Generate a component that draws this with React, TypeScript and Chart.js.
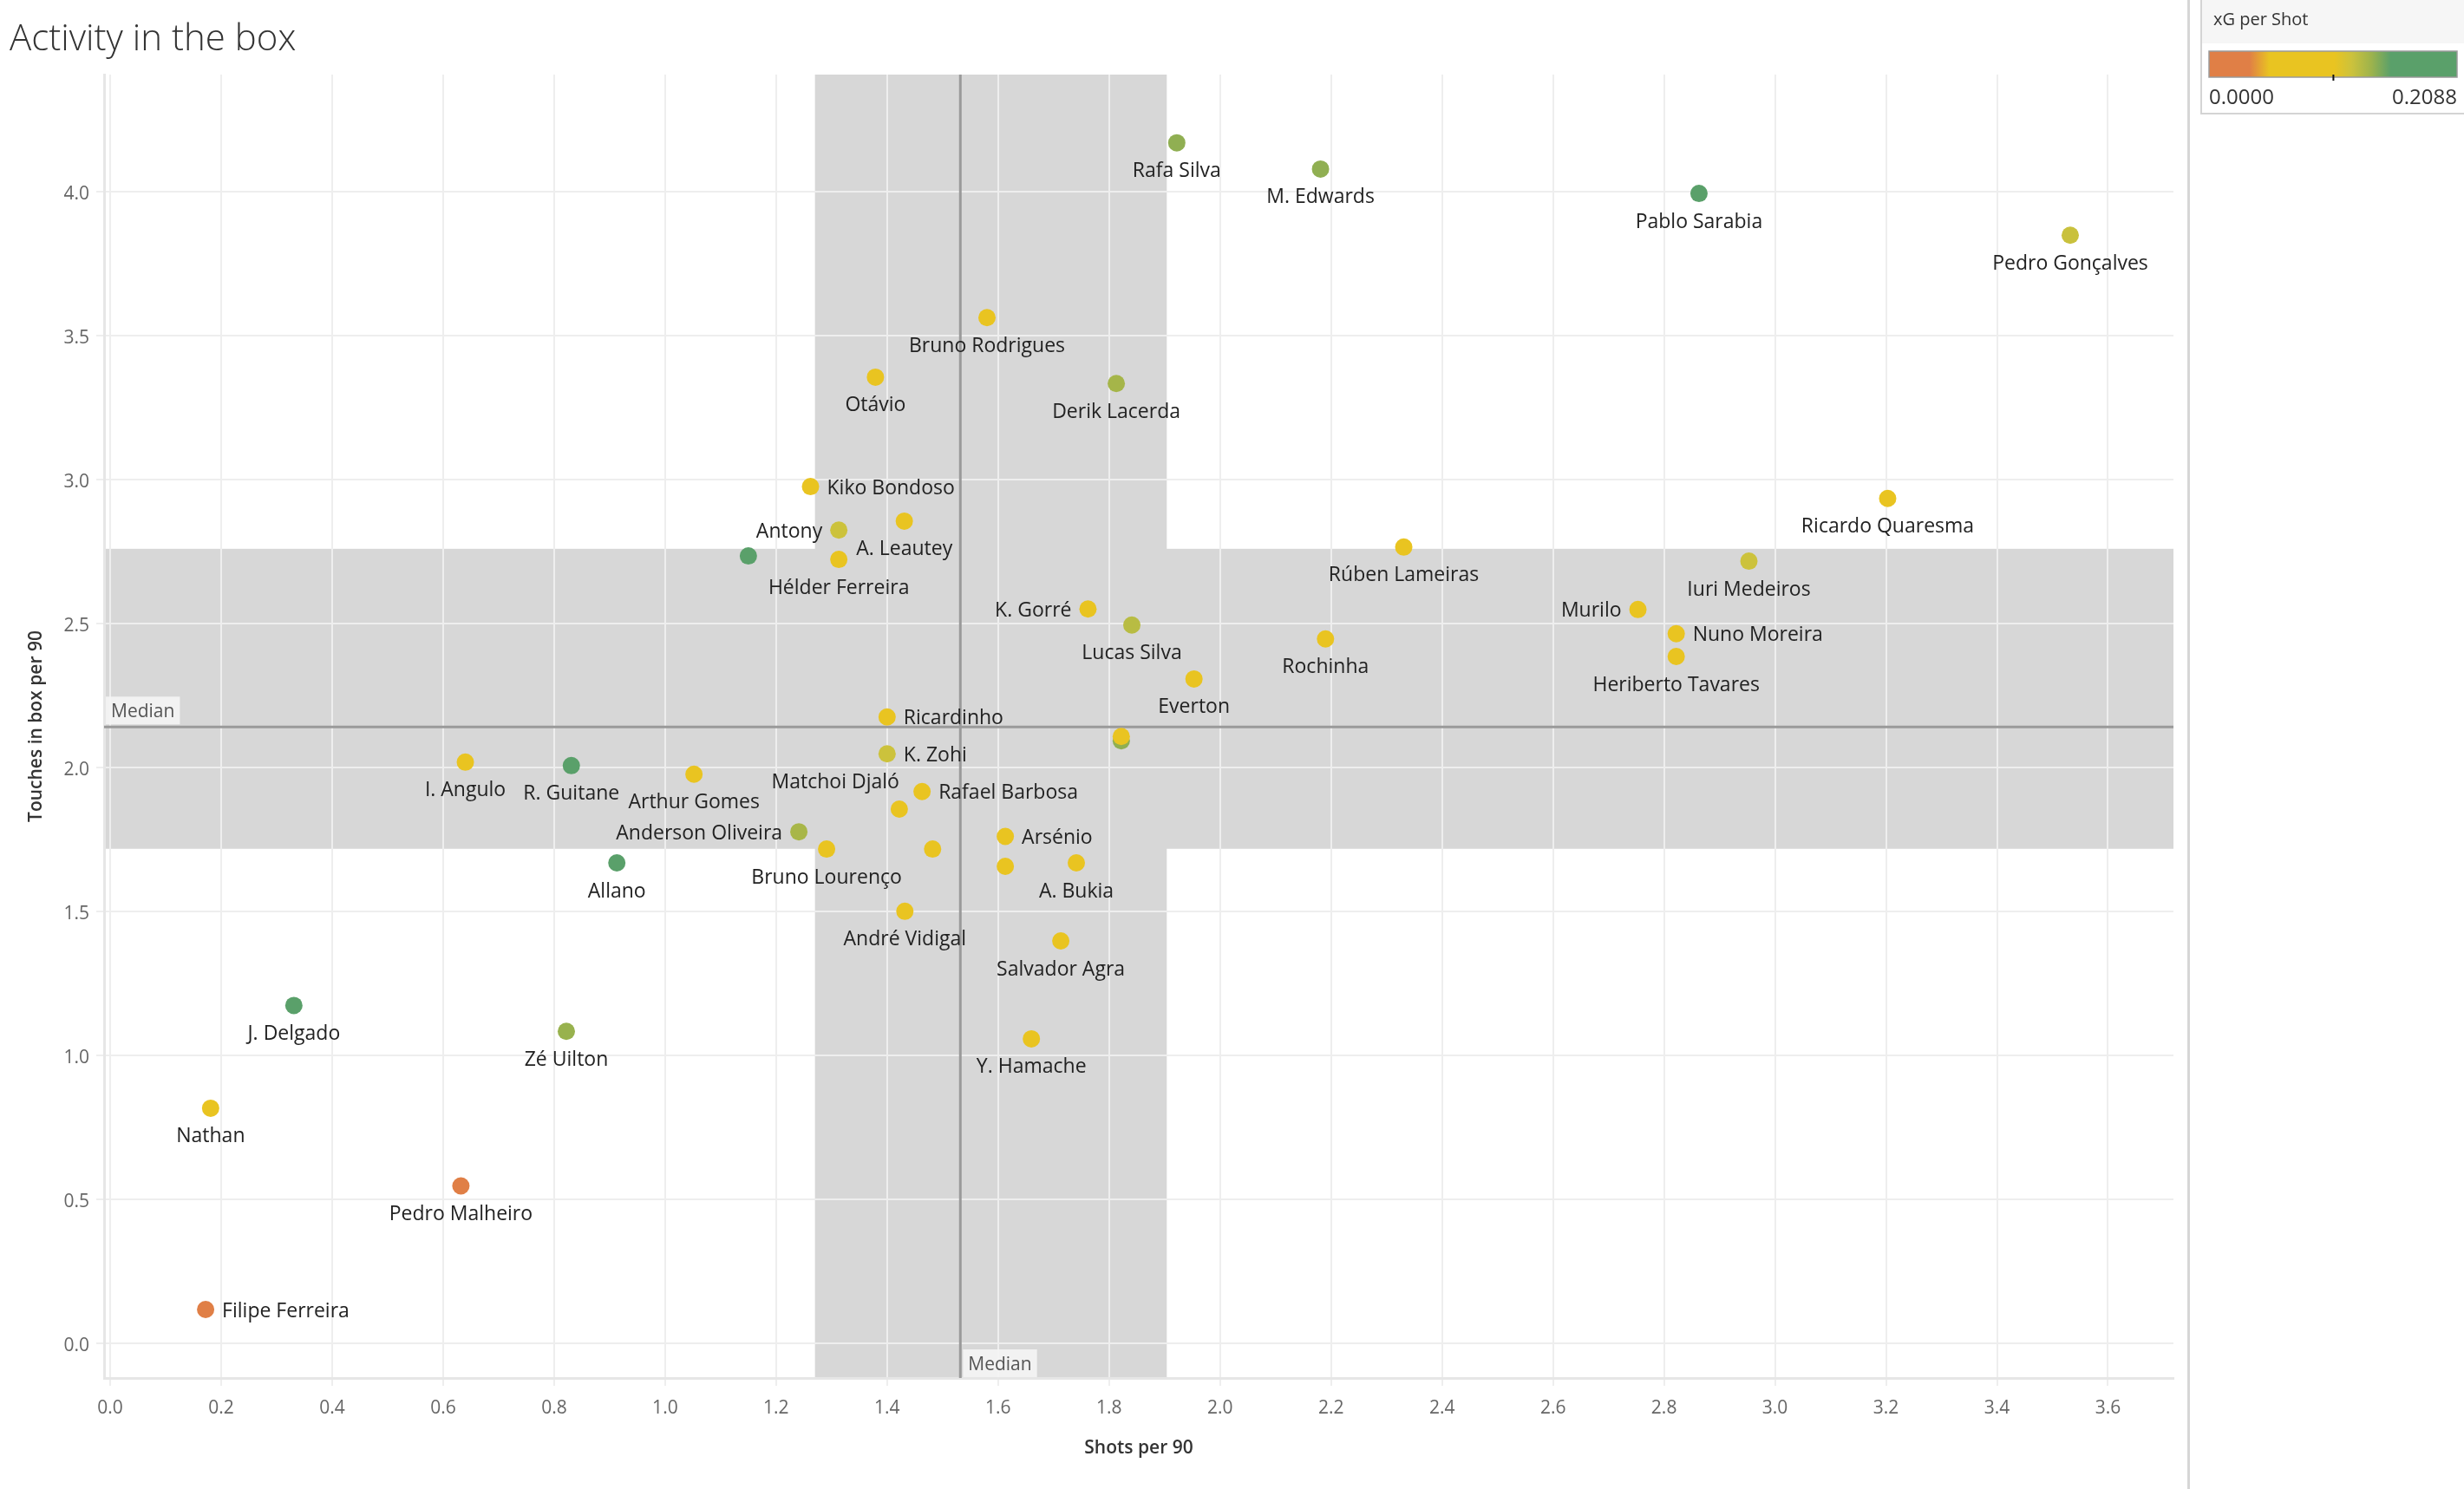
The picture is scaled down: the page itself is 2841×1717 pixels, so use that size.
import { useEffect, useRef } from "react";
import { Chart, registerables } from "chart.js";

Chart.register(...registerables);

// ---------------- data ----------------
const playerNames: string[] = [
  "Rafa Silva", "M. Edwards", "Pablo Sarabia", "Pedro Gonçalves", "Bruno Rodrigues",
  "Otávio", "Derik Lacerda", "Kiko Bondoso", "Ricardo Quaresma", "Antony",
  "A. Leautey", "", "Hélder Ferreira", "Rúben Lameiras", "Iuri Medeiros",
  "Murilo", "K. Gorré", "Lucas Silva", "Nuno Moreira", "Rochinha",
  "Heriberto Tavares", "Everton", "Ricardinho", "", "",
  "K. Zohi", "I. Angulo", "R. Guitane", "Arthur Gomes", "Rafael Barbosa",
  "Matchoi Djaló", "Anderson Oliveira", "Bruno Lourenço", "", "Arsénio",
  "", "A. Bukia", "Allano", "André Vidigal", "Salvador Agra",
  "J. Delgado", "Zé Uilton", "Y. Hamache", "Nathan", "Pedro Malheiro",
  "Filipe Ferreira",
];

const shotsPer90: number[] = [
  1.922, 2.181, 2.863, 3.532, 1.580,
  1.379, 1.813, 1.262, 3.203, 1.313,
  1.431, 1.150, 1.313, 2.331, 2.953,
  2.753, 1.762, 1.841, 2.822, 2.190,
  2.822, 1.953, 1.400, 1.822, 1.822,
  1.400, 0.640, 0.831, 1.052, 1.463,
  1.422, 1.241, 1.291, 1.482, 1.613,
  1.613, 1.741, 0.913, 1.432, 1.713,
  0.331, 0.822, 1.660, 0.181, 0.632,
  0.172,
];

const touchesInBoxPer90: number[] = [
  4.170, 4.079, 3.994, 3.849, 3.563,
  3.356, 3.334, 2.976, 2.935, 2.825,
  2.856, 2.735, 2.723, 2.766, 2.717,
  2.549, 2.551, 2.495, 2.465, 2.447,
  2.386, 2.308, 2.176, 2.093, 2.108,
  2.048, 2.019, 2.007, 1.977, 1.917,
  1.856, 1.777, 1.717, 1.717, 1.761,
  1.657, 1.669, 1.669, 1.501, 1.398,
  1.174, 1.084, 1.058, 0.817, 0.547,
  0.118,
];

const xgPerShot: number[] = [
  0.140, 0.140, 0.180, 0.121, 0.085,
  0.085, 0.134, 0.085, 0.085, 0.120,
  0.085, 0.172, 0.105, 0.085, 0.120,
  0.085, 0.085, 0.127, 0.085, 0.085,
  0.085, 0.085, 0.085, 0.140, 0.085,
  0.120, 0.085, 0.180, 0.085, 0.085,
  0.085, 0.133, 0.085, 0.085, 0.085,
  0.085, 0.085, 0.180, 0.085, 0.085,
  0.180, 0.138, 0.085, 0.080, 0.022,
  0.015,
];

const xTickStep = 0.2;
const yTickStep = 0.5;
const shotsRange = [-0.011, 3.718];
const touchesRange = [-0.12, 4.407];
const medianShots = 1.532;
const medianTouches = 2.141;
const bandShots = [1.27, 1.904];
const bandTouches = [1.718, 2.76];
const xgLegendRange = [0.0, 0.2088];
const xgLegendTick = 0.1047;

// ---------------- styles ----------------
const FONT = '"Open Sans", "Noto Sans", sans-serif';
const colorStops: [number, number[]][] = [
  [0, [224, 127, 70]],
  [0.163, [224, 127, 70]],
  [0.244, [233, 196, 33]],
  [0.506, [233, 196, 33]],
  [0.575, [204, 194, 60]],
  [0.655, [157, 179, 76]],
  [0.733, [90, 160, 106]],
  [1, [90, 160, 106]],
];

const labelPlacement: Record<string, string> = {
  "Kiko Bondoso": "right",
  "Ricardinho": "right",
  "K. Zohi": "right",
  "Rafael Barbosa": "right",
  "Arsénio": "right",
  "Nuno Moreira": "right",
  "Filipe Ferreira": "right",
  "Antony": "left",
  "K. Gorré": "left",
  "Murilo": "left",
  "Anderson Oliveira": "left",
  "Matchoi Djaló": "aboveLeft",
};

function colorAt(t: number): string {
  const tt = Math.max(0, Math.min(1, t));
  for (let i = 0; i < colorStops.length - 1; i++) {
    const [t0, c0] = colorStops[i];
    const [t1, c1] = colorStops[i + 1];
    if (tt >= t0 && tt <= t1) {
      const f = t1 === t0 ? 0 : (tt - t0) / (t1 - t0);
      const c = c0.map((v, k) => Math.round(v + (c1[k] - v) * f));
      return `rgb(${c[0]},${c[1]},${c[2]})`;
    }
  }
  const c = colorStops[colorStops.length - 1][1];
  return `rgb(${c[0]},${c[1]},${c[2]})`;
}

function xgColor(v: number): string {
  return colorAt((v - xgLegendRange[0]) / (xgLegendRange[1] - xgLegendRange[0]));
}

const bandPlugin = {
  id: "bands",
  beforeDraw(chart: any) {
    const { ctx, chartArea, scales } = chart;
    ctx.save();
    ctx.fillStyle = "#ffffff";
    ctx.fillRect(0, 0, chart.width, chart.height);
    ctx.fillStyle = "#D7D7D7";
    const x0 = scales.x.getPixelForValue(bandShots[0]);
    const x1 = scales.x.getPixelForValue(bandShots[1]);
    ctx.fillRect(x0, chartArea.top, x1 - x0, chartArea.bottom - chartArea.top);
    const y0 = scales.y.getPixelForValue(bandTouches[1]);
    const y1 = scales.y.getPixelForValue(bandTouches[0]);
    ctx.fillRect(chartArea.left, y0, chartArea.right - chartArea.left, y1 - y0);
    ctx.restore();
  },
  beforeDatasetsDraw(chart: any) {
    const { ctx, chartArea, scales } = chart;
    ctx.save();
    ctx.strokeStyle = "#9A9A9A";
    ctx.lineWidth = 3;
    const mx = scales.x.getPixelForValue(medianShots);
    const my = scales.y.getPixelForValue(medianTouches);
    ctx.beginPath();
    ctx.moveTo(mx, chartArea.top);
    ctx.lineTo(mx, chartArea.bottom);
    ctx.moveTo(chartArea.left, my);
    ctx.lineTo(chartArea.right, my);
    ctx.stroke();
    ctx.restore();
  },
};

const labelPlugin = {
  id: "pointLabels",
  afterDatasetsDraw(chart: any) {
    const { ctx, chartArea, scales } = chart;
    const meta = chart.getDatasetMeta(0);
    ctx.save();
    ctx.font = `23px ${FONT}`;
    ctx.fillStyle = "#222222";
    ctx.textBaseline = "middle";
    meta.data.forEach((el: any, i: number) => {
      const name = playerNames[i];
      if (!name) return;
      const place = labelPlacement[name] || "below";
      const x = el.x;
      const y = el.y;
      if (place === "right") {
        ctx.textAlign = "left";
        ctx.fillText(name, x + 19, y + 2);
      } else if (place === "left") {
        ctx.textAlign = "right";
        ctx.fillText(name, x - 19, y + 2);
      } else if (place === "aboveLeft") {
        ctx.textAlign = "right";
        ctx.fillText(name, x, y - 30);
      } else {
        ctx.textAlign = "center";
        ctx.fillText(name, x, y + 33);
      }
    });

    // median labels
    ctx.font = `21px ${FONT}`;
    const mx = scales.x.getPixelForValue(medianShots);
    const my = scales.y.getPixelForValue(medianTouches);
    const w = ctx.measureText("Median").width + 12;
    ctx.fillStyle = "rgba(244,244,244,0.92)";
    ctx.fillRect(chartArea.left + 2, my - 35, w, 32);
    ctx.fillRect(mx + 3, chartArea.bottom - 33, w, 32);
    ctx.fillStyle = "#555555";
    ctx.textAlign = "left";
    ctx.fillText("Median", chartArea.left + 8, my - 17);
    ctx.fillText("Median", mx + 9, chartArea.bottom - 15);
    ctx.restore();
  },
  afterDraw(chart: any) {
    const { ctx, chartArea } = chart;
    ctx.save();
    // title
    ctx.fillStyle = "#333333";
    ctx.font = `300 42px ${FONT}`;
    ctx.textAlign = "left";
    ctx.textBaseline = "alphabetic";
    ctx.fillText("Activity in the box", 11, 58);

    // axis titles
    ctx.font = `600 21px ${FONT}`;
    ctx.fillStyle = "#333333";
    ctx.textAlign = "center";
    ctx.textBaseline = "middle";
    ctx.fillText("Shots per 90", (chartArea.left + chartArea.right) / 2, 1670);
    ctx.save();
    ctx.translate(42, (chartArea.top + chartArea.bottom) / 2);
    ctx.rotate(-Math.PI / 2);
    ctx.fillText("Touches in box per 90", 0, 0);
    ctx.restore();

    // separator
    ctx.fillStyle = "#D6D6D6";
    ctx.fillRect(2522, 0, 3, chart.height);

    // legend box
    ctx.fillStyle = "#ffffff";
    ctx.fillRect(2538, 0, 310, 131);
    ctx.fillStyle = "#F6F6F6";
    ctx.fillRect(2539, 0, 310, 50);
    ctx.strokeStyle = "#D4D4D4";
    ctx.lineWidth = 2;
    ctx.strokeRect(2538, -2, 320, 133);

    ctx.fillStyle = "#333333";
    ctx.font = `20px ${FONT}`;
    ctx.textAlign = "left";
    ctx.textBaseline = "alphabetic";
    ctx.fillText("xG per Shot", 2552, 29);

    const bx = 2547, bw = 286, by = 59, bh = 30;
    const grad = ctx.createLinearGradient(bx, 0, bx + bw, 0);
    colorStops.forEach(([t, c]) => grad.addColorStop(t, `rgb(${c[0]},${c[1]},${c[2]})`));
    ctx.fillStyle = grad;
    ctx.fillRect(bx, by, bw, bh);
    ctx.strokeStyle = "#9A9A9A";
    ctx.lineWidth = 1.5;
    ctx.strokeRect(bx, by, bw, bh);
    const tx = bx + (bw * (xgLegendTick - xgLegendRange[0])) / (xgLegendRange[1] - xgLegendRange[0]);
    ctx.fillStyle = "#111111";
    ctx.fillRect(tx - 1, by + bh - 3, 2, 7);

    ctx.fillStyle = "#333333";
    ctx.font = `24px ${FONT}`;
    ctx.textBaseline = "alphabetic";
    ctx.textAlign = "left";
    ctx.fillText(xgLegendRange[0].toFixed(4), bx, 120);
    ctx.textAlign = "right";
    ctx.fillText(xgLegendRange[1].toFixed(4), bx + bw, 120);
    ctx.restore();
  },
};

export default function App() {
  const ref = useRef<HTMLCanvasElement | null>(null);

  useEffect(() => {
    document.body.style.margin = "0";
    document.body.style.overflow = "hidden";
    const canvas = ref.current;
    if (!canvas) return;
    const chart = new Chart(canvas, {
      type: "scatter",
      data: {
        datasets: [
          {
            data: shotsPer90.map((x, i) => ({ x, y: touchesInBoxPer90[i] })),
            pointBackgroundColor: xgPerShot.map(xgColor),
            pointBorderWidth: 0,
            pointRadius: 10,
            pointHoverRadius: 10,
          },
        ],
      },
      options: {
        animation: false,
        responsive: false,
        devicePixelRatio: 1,
        layout: { padding: { left: 0, top: 86, right: 335, bottom: 0 } },
        plugins: { legend: { display: false }, tooltip: { enabled: false } },
        scales: {
          x: {
            type: "linear",
            min: shotsRange[0],
            max: shotsRange[1],
            afterFit: (s: any) => {
              s.height = 128;
            },
            ticks: {
              stepSize: xTickStep,
              includeBounds: false,
              autoSkip: false,
              maxRotation: 0,
              padding: 13,
              color: "#666666",
              font: { family: FONT, size: 21 },
              callback: (v: any) => Number(v).toFixed(1),
            },
            grid: { color: "#EEEEEE", lineWidth: 2, tickLength: 9, drawTicks: true },
            border: { color: "#E6E6E6", width: 3 },
          },
          y: {
            type: "linear",
            min: touchesRange[0],
            max: touchesRange[1],
            afterFit: (s: any) => {
              s.width = 120;
            },
            ticks: {
              stepSize: yTickStep,
              includeBounds: false,
              autoSkip: false,
              padding: 8,
              labelOffset: 3,
              color: "#666666",
              font: { family: FONT, size: 21 },
              callback: (v: any) => Number(v).toFixed(1),
            },
            grid: { color: "#EEEEEE", lineWidth: 2, tickLength: 9, drawTicks: true },
            border: { color: "#E6E6E6", width: 3 },
          },
        },
      } as any,
      plugins: [bandPlugin, labelPlugin],
    });
    return () => chart.destroy();
  }, []);

  return (
    <canvas
      ref={ref}
      width={2841}
      height={1717}
      style={{ position: "absolute", left: 0, top: 0, width: 2841, height: 1717, display: "block" }}
    />
  );
}
